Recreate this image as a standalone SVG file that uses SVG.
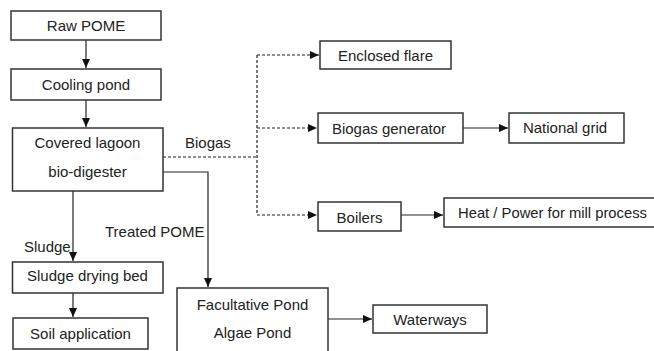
<svg xmlns="http://www.w3.org/2000/svg" width="654" height="351" viewBox="0 0 654 351">
  <defs>
    <marker id="arrow" markerWidth="9" markerHeight="8" refX="9" refY="4" orient="auto" markerUnits="userSpaceOnUse">
      <path d="M0,0 L9,4 L0,8 Z" fill="#111"/>
    </marker>
    <style>
      .box { fill: #fff; stroke: #333; stroke-width: 1.5; }
      .lbl { font-family: "Liberation Sans", Arial, sans-serif; font-size: 15px; fill: #222; text-anchor: middle; }
      .free { font-family: "Liberation Sans", Arial, sans-serif; font-size: 15px; fill: #222; }
      .link { fill: none; stroke: #222; stroke-width: 1.2; }
      .gas { fill: none; stroke: #222; stroke-width: 1.2; stroke-dasharray: 3 2; }
    </style>
  </defs>
  <rect width="654" height="351" fill="#fff"/>

  <!-- connectors -->
  <g id="connectors">
    <path class="link" d="M86,40 V68" marker-end="url(#arrow)"/>
    <path class="link" d="M86,100 V127" marker-end="url(#arrow)"/>
    <!-- biogas distribution -->
    <path class="gas" d="M163,157 H257"/>
    <path class="gas" d="M257,55 V215"/>
    <path class="gas" d="M257,55 H319" marker-end="url(#arrow)"/>
    <path class="gas" d="M257,128 H317" marker-end="url(#arrow)"/>
    <path class="gas" d="M257,215 H317" marker-end="url(#arrow)"/>
    <path class="link" d="M463,128 H508" marker-end="url(#arrow)"/>
    <path class="link" d="M401,215 H443" marker-end="url(#arrow)"/>
    <!-- treated effluent -->
    <path class="link" d="M163,172 H208 V287" marker-end="url(#arrow)"/>
    <path class="link" d="M328,319 H372" marker-end="url(#arrow)"/>
    <!-- sludge -->
    <path class="link" d="M73,191 V261" marker-end="url(#arrow)"/>
    <path class="link" d="M73,293 V317" marker-end="url(#arrow)"/>
    <text class="free" x="185" y="148">Biogas</text>
    <text class="free" x="105" y="237">Treated POME</text>
    <text class="free" x="24" y="252">Sludge</text>
  </g>

  <g id="raw-pome">
    <rect class="box" x="11" y="11" width="150" height="29"/>
    <text class="lbl" x="86" y="31">Raw POME</text>
  </g>
  <g id="cooling-pond">
    <rect class="box" x="11" y="69" width="150" height="31"/>
    <text class="lbl" x="86" y="90">Cooling pond</text>
  </g>
  <g id="covered-lagoon">
    <rect class="box" x="12.5" y="128" width="150.5" height="63"/>
    <text class="lbl" x="87.5" y="148">Covered lagoon</text>
    <text class="lbl" x="87.5" y="177">bio-digester</text>
  </g>
  <g id="sludge-drying-bed">
    <rect class="box" x="12.5" y="262" width="150.5" height="31"/>
    <text class="lbl" x="87.5" y="281">Sludge drying bed</text>
  </g>
  <g id="soil-application">
    <rect class="box" x="13" y="318" width="135" height="31"/>
    <text class="lbl" x="80.5" y="338.5">Soil application</text>
  </g>
  <g id="facultative-pond">
    <rect class="box" x="177" y="288" width="151" height="70"/>
    <text class="lbl" x="252.5" y="309.5">Facultative Pond</text>
    <text class="lbl" x="252.5" y="338">Algae Pond</text>
  </g>
  <g id="waterways">
    <rect class="box" x="373" y="305" width="114" height="28"/>
    <text class="lbl" x="430" y="325">Waterways</text>
  </g>
  <g id="enclosed-flare">
    <rect class="box" x="320" y="41" width="131" height="28"/>
    <text class="lbl" x="385.5" y="61">Enclosed flare</text>
  </g>
  <g id="biogas-generator">
    <rect class="box" x="318" y="113" width="145" height="30"/>
    <text class="lbl" x="389" y="133.5">Biogas generator</text>
  </g>
  <g id="national-grid">
    <rect class="box" x="509" y="113" width="115" height="30"/>
    <text class="lbl" x="565" y="133">National grid</text>
  </g>
  <g id="boilers">
    <rect class="box" x="318" y="202" width="83" height="29"/>
    <text class="lbl" x="359.5" y="223">Boilers</text>
  </g>
  <g id="heat-power">
    <rect class="box" x="444" y="198" width="220" height="29"/>
    <text class="free" x="458" y="218" textLength="189" lengthAdjust="spacingAndGlyphs">Heat / Power for mill process</text>
  </g>
</svg>
